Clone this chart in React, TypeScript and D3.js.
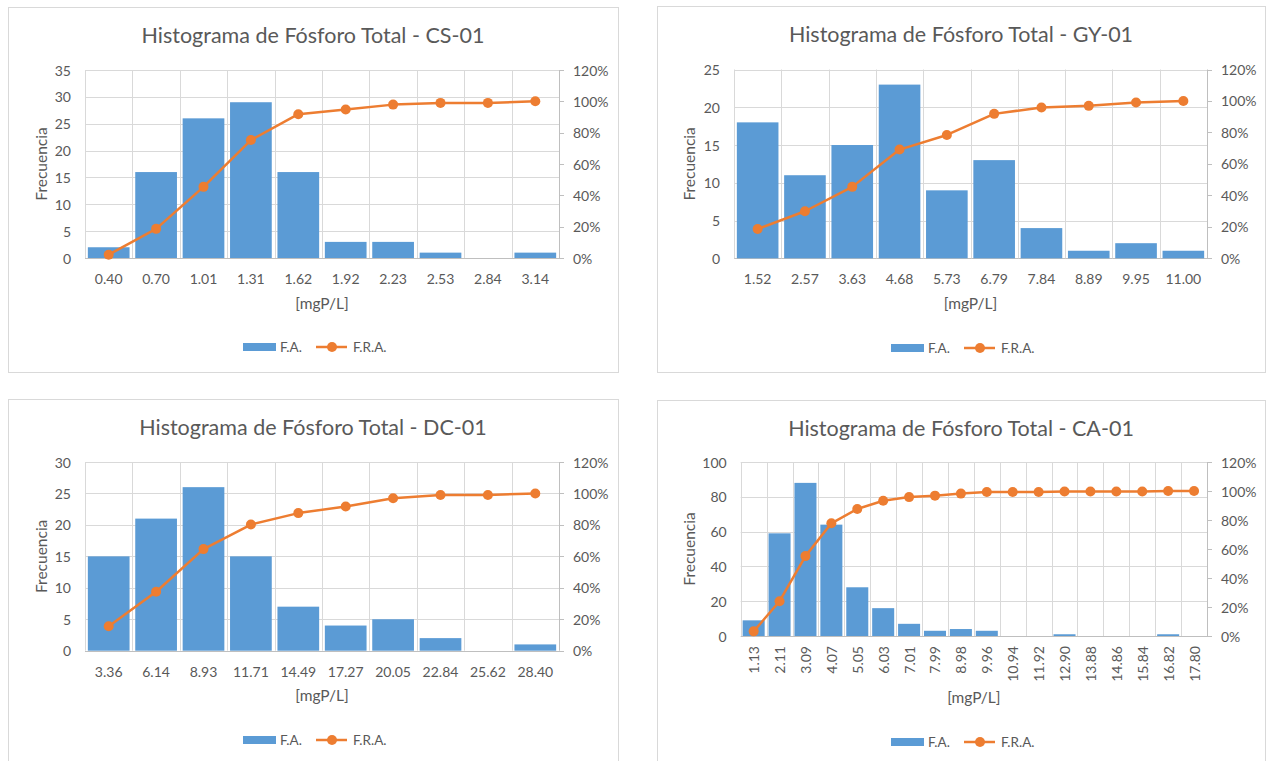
import React from 'react';
import * as d3 from 'd3';

// ---------- DATA ----------
const csLabels = ['0.40', '0.70', '1.01', '1.31', '1.62', '1.92', '2.23', '2.53', '2.84', '3.14'];
const csFA = [2, 16, 26, 29, 16, 3, 3, 1, 0, 1];
const csFRA = [0.021, 0.186, 0.454, 0.753, 0.918, 0.948, 0.979, 0.99, 0.99, 1.0];

const gyLabels = ['1.52', '2.57', '3.63', '4.68', '5.73', '6.79', '7.84', '8.89', '9.95', '11.00'];
const gyFA = [18, 11, 15, 23, 9, 13, 4, 1, 2, 1];
const gyFRA = [0.186, 0.299, 0.454, 0.691, 0.784, 0.918, 0.959, 0.969, 0.99, 1.0];

const dcLabels = ['3.36', '6.14', '8.93', '11.71', '14.49', '17.27', '20.05', '22.84', '25.62', '28.40'];
const dcFA = [15, 21, 26, 15, 7, 4, 5, 2, 0, 1];
const dcFRA = [0.156, 0.375, 0.646, 0.802, 0.875, 0.917, 0.969, 0.99, 0.99, 1.0];

const caLabels = ['1.13', '2.11', '3.09', '4.07', '5.05', '6.03', '7.01', '7.99', '8.98', '9.96', '10.94', '11.92', '12.90', '13.88', '14.86', '15.84', '16.82', '17.80'];
const caFA = [9, 59, 88, 64, 28, 16, 7, 3, 4, 3, 0, 0, 1, 0, 0, 0, 1, 0];
const caFRA = [0.032, 0.24, 0.551, 0.777, 0.876, 0.933, 0.958, 0.968, 0.982, 0.993, 0.993, 0.993, 0.996, 0.996, 0.996, 0.996, 1.0, 1.0];

const titles = ['Histograma de Fósforo Total - CS-01', 'Histograma de Fósforo Total - GY-01', 'Histograma de Fósforo Total - DC-01', 'Histograma de Fósforo Total - CA-01'];
const leftMax = [35, 25, 30, 100];
const leftStep = [5, 5, 5, 20];
const rightTicks = [0, 0.2, 0.4, 0.6, 0.8, 1.0, 1.2];
const xTitle = '[mgP/L]';
const yTitle = 'Frecuencia';
const legendBar = 'F.A.';
const legendLine = 'F.R.A.';

// ---------- STYLE / LAYOUT ----------
const BLUE = '#5B9BD5';
const ORANGE = '#ED7D31';
const TEXT = '#595959';
const GRID = '#d9d9d9';
const AXIS = '#bfbfbf';
const FONT = 'Lato, "Open Sans", sans-serif';
const TICK_FS = 14;

type Layout = {
  box: { x: number; y: number; w: number; h: number };
  plot: { l: number; r: number; t: number; b: number };
  titleY: number; labelY: number; axisTitleY: number; legendY: number; freqX: number;
  rotate: boolean; pad: number;
};

const layouts: Layout[] = [
  { box: { x: 8, y: 7, w: 610, h: 365 }, plot: { l: 85, r: 559, t: 70, b: 258 }, titleY: 35, labelY: 278, axisTitleY: 303, legendY: 347, freqX: 41, rotate: false, pad: 0.12 },
  { box: { x: 657, y: 6, w: 608, h: 366 }, plot: { l: 734, r: 1207, t: 69.5, b: 258.3 }, titleY: 34, labelY: 278, axisTitleY: 303, legendY: 348, freqX: 689, rotate: false, pad: 0.12 },
  { box: { x: 8, y: 399, w: 610, h: 370 }, plot: { l: 85, r: 559, t: 462, b: 650.7 }, titleY: 427, labelY: 671, axisTitleY: 695, legendY: 740, freqX: 41, rotate: false, pad: 0.12 },
  { box: { x: 657, y: 400, w: 608, h: 370 }, plot: { l: 740.7, r: 1207, t: 462, b: 636 }, titleY: 428, labelY: 646, axisTitleY: 697, legendY: 742, freqX: 689, rotate: true, pad: 0.15 },
];

const panelsData = [
  { labels: csLabels, fa: csFA, fra: csFRA },
  { labels: gyLabels, fa: gyFA, fra: gyFRA },
  { labels: dcLabels, fa: dcFA, fra: dcFRA },
  { labels: caLabels, fa: caFA, fra: caFRA },
];

function Panel({ idx }: { idx: number }) {
  const L = layouts[idx];
  const D = panelsData[idx];
  const { l, r, t, b } = L.plot;
  const x = d3.scaleBand<string>().domain(D.labels).range([l, r]).paddingInner(L.pad).paddingOuter(L.pad / 2);
  const step = x.step();
  const yL = d3.scaleLinear().domain([0, leftMax[idx]]).range([b, t]);
  const yR = d3.scaleLinear().domain([0, 1.2]).range([b, t]);
  const leftTicks = d3.range(0, leftMax[idx] + 0.001, leftStep[idx]);
  const line = d3.line<number>()
    .x((_, i) => (x(D.labels[i]) as number) + x.bandwidth() / 2)
    .y((v) => yR(v));
  const cx = L.box.x + L.box.w / 2;
  const pcx = (l + r) / 2;
  const boundaries = d3.range(0, D.labels.length).map((i) => l + i * step);

  return (
    <g>
      <rect x={L.box.x + 0.5} y={L.box.y + 0.5} width={L.box.w} height={L.box.h} fill="#fff" stroke={GRID} strokeWidth={1} />
      <text x={cx} y={L.titleY} textAnchor="middle" dominantBaseline="central" fill={TEXT} fontSize={21.5} fontFamily={FONT}>{titles[idx]}</text>
      {leftTicks.map((v) => (
        <line key={'h' + v} x1={l} x2={r} y1={Math.round(yL(v)) + 0.5} y2={Math.round(yL(v)) + 0.5} stroke={v === 0 ? AXIS : GRID} strokeWidth={1} />
      ))}
      {boundaries.map((bx, i) => (
        <line key={'v' + i} x1={Math.round(bx) + 0.5} x2={Math.round(bx) + 0.5} y1={t} y2={b} stroke={GRID} strokeWidth={1} />
      ))}
      <line x1={Math.round(r) + 0.5} x2={Math.round(r) + 0.5} y1={t} y2={b} stroke={AXIS} strokeWidth={1} />
      {rightTicks.map((v) => (
        <line key={'rt' + v} x1={r} x2={r + 5} y1={Math.round(yR(v)) + 0.5} y2={Math.round(yR(v)) + 0.5} stroke={AXIS} strokeWidth={1} />
      ))}
      {D.fa.map((v, i) => (
        <rect key={'b' + i} x={x(D.labels[i])} y={yL(v)} width={x.bandwidth()} height={b - yL(v)} fill={BLUE} />
      ))}
      <path d={line(D.fra) || ''} fill="none" stroke={ORANGE} strokeWidth={2.5} strokeLinejoin="round" />
      {D.fra.map((v, i) => (
        <circle key={'c' + i} cx={(x(D.labels[i]) as number) + x.bandwidth() / 2} cy={yR(v)} r={5} fill={ORANGE} />
      ))}
      {leftTicks.map((v) => (
        <text key={'lt' + v} x={l - 14} y={yL(v)} textAnchor="end" dominantBaseline="central" fill={TEXT} fontSize={TICK_FS} fontFamily={FONT}>{v}</text>
      ))}
      {rightTicks.map((v) => (
        <text key={'rl' + v} x={r + 14} y={yR(v)} textAnchor="start" dominantBaseline="central" fill={TEXT} fontSize={TICK_FS} fontFamily={FONT}>{Math.round(v * 100) + '%'}</text>
      ))}
      {D.labels.map((lab) => {
        const px = (x(lab) as number) + x.bandwidth() / 2;
        return L.rotate ? (
          <text key={'x' + lab} transform={`translate(${px},${L.labelY}) rotate(-90)`} textAnchor="end" dominantBaseline="central" fill={TEXT} fontSize={TICK_FS} fontFamily={FONT}>{lab}</text>
        ) : (
          <text key={'x' + lab} x={px} y={L.labelY} textAnchor="middle" dominantBaseline="central" fill={TEXT} fontSize={TICK_FS} fontFamily={FONT}>{lab}</text>
        );
      })}
      <text x={pcx} y={L.axisTitleY} textAnchor="middle" dominantBaseline="central" fill={TEXT} fontSize={15.5} fontFamily={FONT}>{xTitle}</text>
      <text transform={`translate(${L.freqX},${(t + b) / 2}) rotate(-90)`} textAnchor="middle" dominantBaseline="central" fill={TEXT} fontSize={15.5} fontFamily={FONT}>{yTitle}</text>
      <rect x={cx - 70} y={L.legendY - 4} width={33} height={8} fill={BLUE} />
      <text x={cx - 33} y={L.legendY} dominantBaseline="central" fill={TEXT} fontSize={13.5} fontFamily={FONT}>{legendBar}</text>
      <line x1={cx + 3} x2={cx + 34} y1={L.legendY} y2={L.legendY} stroke={ORANGE} strokeWidth={2.5} />
      <circle cx={cx + 19} cy={L.legendY} r={5} fill={ORANGE} />
      <text x={cx + 40} y={L.legendY} dominantBaseline="central" fill={TEXT} fontSize={13.5} fontFamily={FONT}>{legendLine}</text>
    </g>
  );
}

export default function App() {
  return (
    <svg width={1273} height={761} style={{ position: 'absolute', left: 0, top: 0, background: '#fff' }}>
      <rect x={0} y={0} width={1273} height={761} fill="#fff" />
      {[0, 1, 2, 3].map((i) => <Panel key={i} idx={i} />)}
    </svg>
  );
}
